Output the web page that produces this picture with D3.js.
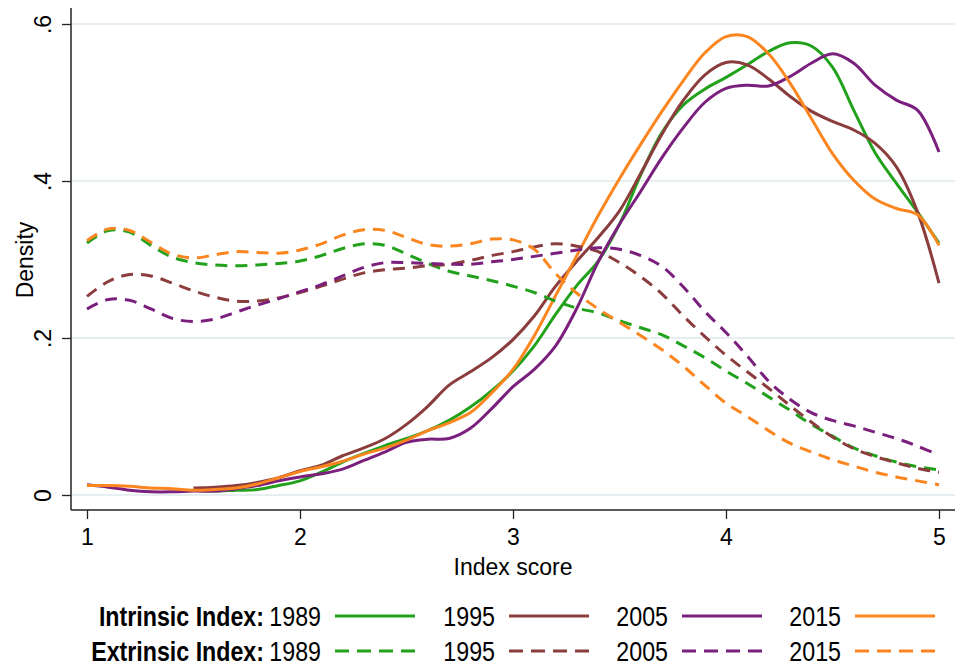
<!DOCTYPE html>
<html>
<head>
<meta charset="utf-8">
<script src="https://cdn.jsdelivr.net/npm/d3@7"></script>
<style>
  body { margin: 0; background: #fff; }
  svg { display: block; font-family: "Liberation Sans", Arial, Helvetica, sans-serif; }
</style>
</head>
<body>
<script>
// chart size
var width = 961
var height = 666

// index score grid (x values)
const scores = [1.0, 1.1, 1.2, 1.3, 1.4, 1.5, 1.6, 1.7, 1.8, 1.9,
                2.0, 2.1, 2.2, 2.3, 2.4, 2.5, 2.6, 2.7, 2.8, 2.9,
                3.0, 3.1, 3.2, 3.3, 3.4, 3.5, 3.6, 3.7, 3.8, 3.9,
                4.0, 4.1, 4.2, 4.3, 4.4, 4.5, 4.6, 4.7, 4.8, 4.9, 5.0]

const years = ["1989", "1995", "2005", "2015"]

// density, intrinsic index (solid lines)
const intrinsic1989 = [null, null, null, null, null, 0.006, 0.005, 0.006, 0.007, 0.012,
                       0.018, 0.029, 0.042, 0.053, 0.063, 0.072, 0.082, 0.095, 0.112, 0.133,
                       0.158, 0.19, 0.23, 0.267, 0.298, 0.345, 0.408, 0.462, 0.497, 0.517,
                       0.532, 0.548, 0.565, 0.576, 0.572, 0.545, 0.49, 0.436, 0.397, 0.36, 0.321]
const intrinsic1995 = [null, null, null, null, null, 0.009, 0.01, 0.012, 0.016, 0.022,
                       0.031, 0.038, 0.05, 0.06, 0.072, 0.09, 0.113, 0.14, 0.157, 0.175,
                       0.198, 0.228, 0.266, 0.298, 0.328, 0.362, 0.41, 0.46, 0.503, 0.535,
                       0.551, 0.548, 0.53, 0.508, 0.489, 0.476, 0.465, 0.448, 0.418, 0.36, 0.27]
const intrinsic2005 = [0.013, 0.01, 0.006, 0.004, 0.004, 0.005, 0.005, 0.008, 0.012, 0.018,
                       0.023, 0.027, 0.033, 0.044, 0.055, 0.067, 0.071, 0.072, 0.085, 0.11,
                       0.138, 0.16, 0.19, 0.238, 0.297, 0.345, 0.387, 0.43, 0.468, 0.5,
                       0.518, 0.522, 0.521, 0.533, 0.55, 0.562, 0.55, 0.522, 0.503, 0.49, 0.437]
const intrinsic2015 = [0.012, 0.012, 0.011, 0.009, 0.008, 0.006, 0.007, 0.009, 0.014, 0.022,
                       0.03, 0.036, 0.043, 0.052, 0.06, 0.07, 0.082, 0.092, 0.105, 0.13,
                       0.16, 0.203, 0.254, 0.305, 0.356, 0.403, 0.447, 0.489, 0.528, 0.563,
                       0.584, 0.584, 0.562, 0.525, 0.48, 0.435, 0.401, 0.377, 0.365, 0.357, 0.318]

// density, extrinsic index (dashed lines)
const extrinsic1989 = [0.321, 0.337, 0.335, 0.318, 0.303, 0.296, 0.293, 0.292, 0.293, 0.295,
                       0.298, 0.305, 0.314, 0.32, 0.318, 0.307, 0.295, 0.285, 0.279, 0.273,
                       0.266, 0.258, 0.247, 0.238, 0.232, 0.222, 0.213, 0.204, 0.19, 0.175,
                       0.158, 0.142, 0.125, 0.108, 0.09, 0.075, 0.06, 0.05, 0.042, 0.036, 0.032]
const extrinsic1995 = [0.253, 0.272, 0.281, 0.279, 0.27, 0.26, 0.252, 0.247, 0.247, 0.251,
                       0.258, 0.266, 0.275, 0.283, 0.287, 0.289, 0.292, 0.294, 0.299, 0.305,
                       0.31, 0.316, 0.32, 0.317, 0.31, 0.296, 0.278, 0.256, 0.228, 0.202,
                       0.178, 0.157, 0.136, 0.114, 0.093, 0.074, 0.059, 0.049, 0.041, 0.034, 0.029]
const extrinsic2005 = [0.237, 0.249, 0.248, 0.237, 0.225, 0.221, 0.224, 0.233, 0.242, 0.25,
                       0.259, 0.268, 0.279, 0.29, 0.296, 0.296, 0.295, 0.294, 0.294, 0.297,
                       0.3, 0.304, 0.308, 0.312, 0.315, 0.313, 0.305, 0.291, 0.265, 0.234,
                       0.207, 0.177, 0.145, 0.122, 0.105, 0.095, 0.088, 0.08, 0.072, 0.062, 0.051]
const extrinsic2015 = [0.324, 0.339, 0.337, 0.322, 0.307, 0.302, 0.306, 0.31, 0.309, 0.308,
                       0.312, 0.32, 0.331, 0.338, 0.337, 0.328, 0.319, 0.317, 0.32, 0.326,
                       0.325, 0.313, 0.282, 0.257, 0.237, 0.22, 0.203, 0.185, 0.164, 0.14,
                       0.117, 0.1, 0.082, 0.066, 0.055, 0.045, 0.037, 0.029, 0.023, 0.018, 0.013]

const xTicks = [1, 2, 3, 4, 5]
const yTicks = [0, 0.2, 0.4, 0.6]
const yTickLabels = ["0", ".2", ".4", ".6"]

var colors = ["#22a11c", "#8b3d3d", "#7b1f7d", "#fb8620"]

var intrinsic = [intrinsic1989, intrinsic1995, intrinsic2005, intrinsic2015]
var extrinsic = [extrinsic1989, extrinsic1995, extrinsic2005, extrinsic2015]

// plot frame
var frame = { left: 71, right: 955, top: 8, bottom: 510 }

var svg = d3.select("body").append("svg")
    .attr("width", width)
    .attr("height", height)

var xScale = d3.scaleLinear().domain([1, 5]).range([87, 939])
var yScale = d3.scaleLinear().domain([0, 0.6]).range([495, 24])

// grid lines
svg.append("g").selectAll("line")
    .data(yTicks)
    .enter().append("line")
    .attr("x1", frame.left + 1)
    .attr("x2", frame.right)
    .attr("y1", d => yScale(d))
    .attr("y2", d => yScale(d))
    .style("stroke", "#e6eef1")
    .style("stroke-width", 2)

// density lines
var line = d3.line()
    .defined(d => d.y != null)
    .x(d => xScale(d.x))
    .y(d => yScale(d.y))
    .curve(d3.curveCatmullRom.alpha(0.5))

function toPoints(values) {
    return values.map((v, i) => ({ x: scores[i], y: v }))
}

intrinsic.forEach(function (values, i) {
    svg.append("path")
        .datum(toPoints(values))
        .attr("d", line)
        .style("fill", "none")
        .style("stroke", colors[i])
        .style("stroke-width", 3)
})

extrinsic.forEach(function (values, i) {
    svg.append("path")
        .datum(toPoints(values))
        .attr("d", line)
        .style("fill", "none")
        .style("stroke", colors[i])
        .style("stroke-width", 3)
        .style("stroke-dasharray", "12,8")
})

// x axis
var xAxis = d3.axisBottom(xScale)
    .tickValues(xTicks)
    .tickSize(9)
    .tickSizeOuter(0)
    .tickFormat(d3.format("d"))

var gx = svg.append("g")
    .attr("transform", "translate(0," + frame.bottom + ")")
    .call(xAxis)
gx.select(".domain").remove()
gx.selectAll(".tick line").style("stroke", "#222").style("stroke-width", 1.3)
gx.selectAll(".tick text")
    .attr("y", 35)
    .attr("dy", 0)
    .style("font-size", "23px")
    .style("fill", "#000")
    .style("font-family", "'Liberation Sans', Arial, sans-serif")

// y axis
var yAxis = d3.axisLeft(yScale)
    .tickValues(yTicks)
    .tickSize(9)
    .tickSizeOuter(0)
    .tickFormat((d, i) => yTickLabels[i])

var gy = svg.append("g")
    .attr("transform", "translate(" + frame.left + ",0)")
    .call(yAxis)
gy.select(".domain").remove()
gy.selectAll(".tick line").style("stroke", "#222").style("stroke-width", 1.3)
gy.selectAll(".tick text")
    .attr("x", null)
    .attr("dy", null)
    .attr("text-anchor", "middle")
    .attr("transform", "translate(-20,0) rotate(-90)")
    .style("font-size", "23px")
    .style("fill", "#000")
    .style("font-family", "'Liberation Sans', Arial, sans-serif")

// axis lines
svg.append("line")
    .attr("x1", frame.left).attr("x2", frame.left)
    .attr("y1", frame.top).attr("y2", frame.bottom)
    .style("stroke", "#222").style("stroke-width", 1.5)
svg.append("line")
    .attr("x1", frame.left).attr("x2", frame.right)
    .attr("y1", frame.bottom).attr("y2", frame.bottom)
    .style("stroke", "#222").style("stroke-width", 1.5)

// axis titles
svg.append("text")
    .attr("x", 513).attr("y", 575)
    .attr("text-anchor", "middle")
    .style("font-size", "23px")
    .text("Index score")

svg.append("text")
    .attr("transform", "translate(33,260) rotate(-90)")
    .attr("text-anchor", "middle")
    .style("font-size", "23px")
    .text("Density")

// legend
var legendRows = [
    { label: "Intrinsic Index:", dash: null, y: 616 },
    { label: "Extrinsic Index:", dash: "14,8", y: 651 }
]
var legendCols = [335, 509, 682, 855]
var squeeze = "scale(0.86,1)"

legendRows.forEach(function (row) {
    svg.append("text")
        .attr("transform", "translate(264," + (row.y + 10) + ") " + squeeze)
        .attr("text-anchor", "end")
        .style("font-size", "27px")
        .style("font-weight", "bold")
        .text(row.label)

    years.forEach(function (yr, i) {
        svg.append("text")
            .attr("transform", "translate(" + (legendCols[i] - 14) + "," + (row.y + 10) + ") " + squeeze)
            .attr("text-anchor", "end")
            .style("font-size", "27px")
            .text(yr)

        svg.append("line")
            .attr("x1", legendCols[i]).attr("x2", legendCols[i] + 80)
            .attr("y1", row.y).attr("y2", row.y)
            .style("stroke", colors[i])
            .style("stroke-width", 3)
            .style("stroke-dasharray", row.dash)
    })
})
</script>
</body>
</html>
